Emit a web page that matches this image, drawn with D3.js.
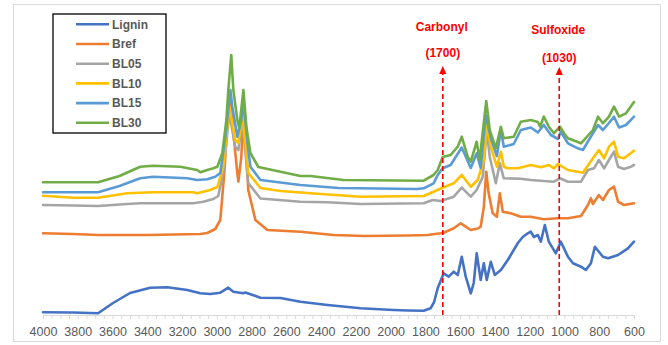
<!DOCTYPE html>
<html><head><meta charset="utf-8">
<script src="https://cdn.jsdelivr.net/npm/d3@7"></script>
<style>html,body{margin:0;padding:0;background:#fff;}svg{display:block;}</style>
</head><body>
<script>
// wavenumber (cm-1) and relative absorbance (arbitrary units, offset for stacking)
const lignin = [[4000,2.7],[3827,2.5],[3683,1.7],[3597,12],[3499,22],[3383,27.3],[3285,27.7],[3170,25],[3095,21.7],[3038,21],[2980,22.3],[2934,27.3],[2905,23.3],[2847,21.7],[2836,22.5],[2749,17.3],[2634,17],[2519,13.3],[2363,10],[2173,6.7],[1983,5],[1900,4.5],[1810,4.3],[1770,6.7],[1750,13],[1729,27],[1701,39],[1695,41.7],[1666,38.3],[1637,43.3],[1614,40],[1591,58.3],[1568,38.3],[1539,21.7],[1522,32],[1505,61.7],[1482,35],[1464,51.7],[1447,35],[1424,53.3],[1401,40],[1366,45],[1326,55],[1268,72],[1240,78],[1211,81.7],[1194,83.3],[1176,78],[1153,80],[1136,73.3],[1113,90],[1090,73.3],[1050,61.7],[1021,73.3],[980,58.3],[951,51.7],[905,48.3],[877,45],[848,51.7],[825,68.3],[779,58.3],[749,56.7],[692,60],[635,66.7],[600,73.3]];
const bref = [[4000,81.7],[3827,81],[3683,80],[3400,80],[3095,81],[3055,82],[3009,86],[2980,95],[2957,142],[2940,192],[2922,215],[2905,182],[2882,142],[2876,133.3],[2859,158.3],[2847,202],[2836,175],[2819,125],[2778,95],[2709,85],[2519,83.3],[2329,80],[2150,79],[1900,79.5],[1787,80],[1712,81.7],[1695,82.3],[1637,86.7],[1597,91.7],[1568,88.3],[1539,85],[1499,86.5],[1482,88.3],[1464,108],[1450,143.3],[1436,121.7],[1413,101.7],[1389,98.3],[1372,121.7],[1355,103.3],[1309,101.7],[1251,98.3],[1194,98.3],[1119,95.7],[1038,96.7],[980,96.7],[905,99],[865,110],[848,116.7],[836,111],[802,120],[779,115],[744,125],[715,128.3],[692,113.3],[658,110],[600,111.7]];
const bl05 = [[4000,110],[3827,109.5],[3683,109],[3516,111],[3441,111.7],[3136,111.7],[3078,113.3],[3020,116],[2992,119],[2963,142],[2928,202],[2894,168.3],[2876,165],[2853,195],[2819,132],[2749,116.5],[2519,113.3],[2363,112.7],[2173,111],[1810,111.7],[1758,115],[1712,114],[1637,118.3],[1591,127.3],[1539,118.3],[1505,125],[1470,138.3],[1447,185],[1430,158.3],[1395,131.7],[1372,151.7],[1349,136.7],[1251,136.3],[1194,135],[1136,134.3],[1061,133.3],[1026,136.7],[980,133.3],[905,133.3],[865,145],[830,146.7],[802,155],[772,146.7],[744,155],[715,163.3],[692,148.3],[658,146],[617,148.3],[600,150]];
const bl10 = [[4000,119.3],[3827,117.3],[3683,117.3],[3516,121.7],[3366,122.7],[3136,122.7],[3113,121.7],[3038,125],[2997,128],[2963,148.3],[2928,208.3],[2894,175],[2876,172],[2853,202],[2819,142],[2749,127],[2634,124],[2461,121.7],[2173,118.3],[1810,119],[1753,123.3],[1712,126.5],[1637,131.7],[1591,140],[1539,128.3],[1499,135],[1464,155],[1447,191.7],[1424,168.3],[1389,148.3],[1366,163.3],[1349,148.3],[1326,146.7],[1268,146.7],[1194,150],[1136,147.7],[1090,150],[1061,146.7],[1038,151],[980,145],[923,143.3],[894,142.3],[836,156.7],[802,165],[772,156.7],[744,168.3],[715,173.3],[692,158.3],[658,156.7],[600,164.3]];
const bl15 = [[4000,122.7],[3683,122.7],[3560,129],[3441,136.7],[3366,138.3],[3170,136.7],[3113,135],[3055,135.7],[3009,138.3],[2980,142],[2951,178],[2922,225],[2911,208.3],[2882,178.3],[2859,195],[2847,213.3],[2819,165],[2807,148.3],[2749,135],[2519,130],[2300,127],[1850,126],[1810,126.7],[1753,131.7],[1729,140],[1701,146.7],[1655,150],[1591,167.5],[1539,147],[1505,161.7],[1482,147],[1453,200],[1424,177],[1389,159],[1366,185],[1349,168.3],[1292,171],[1251,185],[1194,187.5],[1153,182.5],[1119,190],[1078,180],[1038,176],[1021,183.3],[980,171.7],[923,166.7],[894,165],[848,178.3],[807,190],[779,185],[744,192],[715,198.3],[686,187.5],[646,190],[600,198.3]];
const bl30 = [[4000,132.7],[3683,132.7],[3560,139],[3441,148.3],[3366,149.3],[3210,148.3],[3113,145],[3095,142.7],[3055,145],[3020,146.7],[2997,148.3],[2968,162],[2945,195],[2934,225],[2917,260],[2905,225],[2882,195],[2871,187],[2847,225],[2830,188],[2807,162],[2761,148],[2634,143.3],[2519,139],[2461,139],[2271,135],[1810,134.3],[1753,140],[1729,145],[1701,158],[1655,160],[1614,168.3],[1591,178.3],[1557,158.3],[1539,153.3],[1505,173.3],[1488,155],[1450,214],[1430,185],[1395,166.7],[1366,188.3],[1349,176.7],[1292,178.3],[1251,193.3],[1194,195],[1153,193],[1140,188.3],[1119,198.5],[1090,188.3],[1061,181.7],[1026,188.3],[1000,181],[980,176.7],[905,171.7],[836,185],[807,198.3],[779,191.7],[744,198.3],[715,208.3],[686,198.3],[646,201.7],[600,213]];

const seriesNames = ["Lignin","Bref","BL05","BL10","BL15","BL30"];
const seriesData = [lignin, bref, bl05, bl10, bl15, bl30];
const seriesColors = ["#4472C4","#ED7D31","#A5A5A5","#FFC000","#5B9BD5","#70AD47"];
const xTicks = [4000,3800,3600,3400,3200,3000,2800,2600,2400,2200,2000,1800,1600,1400,1200,1000,800,600];
const annotations = [{label:"Carbonyl", sub:"(1700)", wn:1700}, {label:"Sulfoxide", sub:"(1030)", wn:1030}];

const W = 668, H = 345;
const svg = d3.select("body").append("svg").attr("width", W).attr("height", H);
svg.append("rect").attr("x",13.5).attr("y",4.5).attr("width",647).attr("height",337)
  .attr("fill","#fff").attr("stroke","#D9D9D9").attr("stroke-width",1);

const x = d3.scaleLinear().domain([4000,600]).range([43,634]);
const y = d3.scaleLinear().domain([0,300]).range([315,15]);

// axis
const axis = d3.axisBottom(x).tickValues(d3.range(4000,599,-50)).tickSize(4).tickFormat("");
const gAx = svg.append("g").attr("transform","translate(0,315)").call(axis);
gAx.select(".domain").attr("stroke","#D9D9D9").attr("stroke-width",1.2);
gAx.selectAll(".tick line").attr("stroke","#D9D9D9");
const gLab = svg.append("g").attr("transform","translate(0,315)")
  .call(d3.axisBottom(x).tickValues(xTicks).tickSize(0).tickPadding(12).tickFormat(d3.format("d")));
gLab.select(".domain").remove();
gLab.selectAll("text").attr("fill","#595959").attr("font-size","12.5px").attr("font-family","'Liberation Sans', Arial, sans-serif");

// series lines
const line = d3.line().x(d=>x(d[0])).y(d=>y(d[1]));
seriesData.forEach((s,i)=>{
  svg.append("path").datum(s).attr("d",line).attr("fill","none")
    .attr("stroke",seriesColors[i]).attr("stroke-width",2.6).attr("stroke-linejoin","round").attr("stroke-linecap","round");
});

// dashed annotation arrows
annotations.forEach((a,i)=>{
  const xx = x(a.wn);
  const tip = i===0 ? 66 : 67;
  svg.append("line").attr("x1",xx).attr("x2",xx).attr("y1",315).attr("y2",tip+7)
    .attr("stroke","#FF0000").attr("stroke-width",1.6).attr("stroke-dasharray","5,3");
  svg.append("path").attr("d",`M${xx},${tip} L${xx+3.6},${tip+8} L${xx-3.6},${tip+8} Z`).attr("fill","#FF0000");
  const t = svg.append("g").attr("font-family","'Liberation Sans', Arial, sans-serif").attr("font-weight","bold")
    .attr("font-size","12px").attr("fill","#FF0000").attr("text-anchor","middle");
  t.append("text").attr("x",xx-1).attr("y",i===0?31:34).text(a.label);
  t.append("text").attr("x",xx).attr("y",i===0?57:62).text(a.sub);
});

// legend
const lg = svg.append("g");
lg.append("rect").attr("x",53).attr("y",14).attr("width",113).attr("height",119)
  .attr("fill","#fff").attr("stroke","#000").attr("stroke-width",1.3);
seriesNames.forEach((n,i)=>{
  const yy = 24.3 + i*19.7;
  lg.append("line").attr("x1",76).attr("x2",109).attr("y1",yy).attr("y2",yy)
    .attr("stroke",seriesColors[i]).attr("stroke-width",2.6);
  lg.append("text").attr("x",112).attr("y",yy+4.3).text(n)
    .attr("font-family","'Liberation Sans', Arial, sans-serif").attr("font-weight","bold")
    .attr("font-size","12px").attr("fill","#595959");
});
</script>
</body></html>
